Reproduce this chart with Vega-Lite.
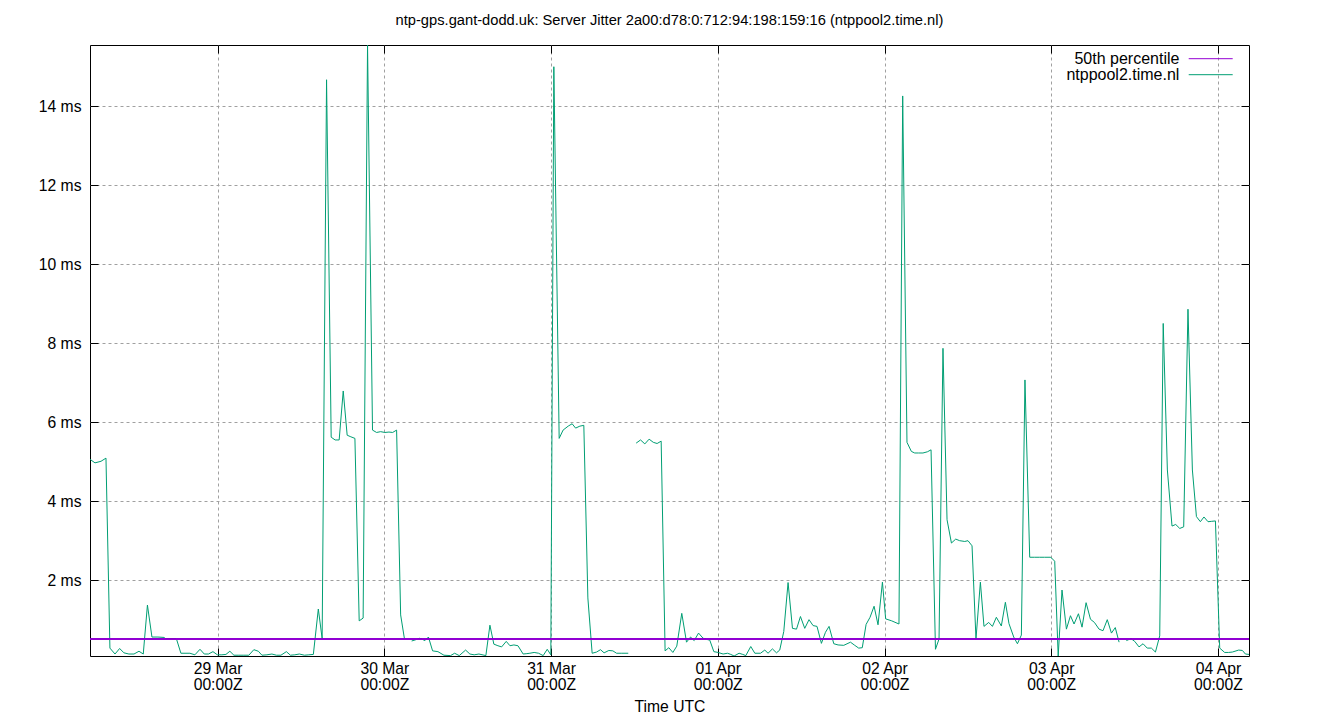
{
  "$schema": "https://vega.github.io/schema/vega-lite/v6.json",
  "width": 1159,
  "height": 611,
  "autosize": "none",
  "padding": {"left": 90, "top": 45, "right": 91, "bottom": 64},
  "background": "white",
  "title": {
    "text": "ntp-gps.gant-dodd.uk: Server Jitter 2a00:d78:0:712:94:198:159:16 (ntppool2.time.nl)",
    "anchor": "middle",
    "frame": "group",
    "baseline": "middle",
    "offset": 9,
    "font": "Liberation Sans",
    "fontSize": 14.7,
    "fontWeight": "normal",
    "color": "black"
  },
  "config": {
    "view": {"stroke": "black", "strokeWidth": 1},
    "font": "Liberation Sans",
    "axis": {
      "labelFont": "Liberation Sans",
      "labelFontSize": 15.7,
      "labelColor": "black",
      "titleFont": "Liberation Sans",
      "titleFontSize": 15.7,
      "titleFontWeight": "normal",
      "titleColor": "black",
      "domain": false,
      "tickColor": "black",
      "tickSize": -8,
      "gridColor": "#a0a0a0",
      "gridDash": [3, 3],
      "gridWidth": 1,
      "labelOverlap": false,
      "labelFlush": false
    },
    "legend": {
      "labelFont": "Liberation Sans",
      "labelFontSize": 16,
      "labelColor": "black"
    }
  },
  "data": {
    "values": [
      {"t": "2025-03-28T05:38Z", "v": 5.06, "s": 1},
      {"t": "2025-03-28T06:21Z", "v": 4.97, "s": 1},
      {"t": "2025-03-28T07:13Z", "v": 5.01, "s": 1},
      {"t": "2025-03-28T07:56Z", "v": 5.09, "s": 1},
      {"t": "2025-03-28T08:30Z", "v": 0.28, "s": 1},
      {"t": "2025-03-28T09:14Z", "v": 0.13, "s": 1},
      {"t": "2025-03-28T09:54Z", "v": 0.27, "s": 1},
      {"t": "2025-03-28T10:31Z", "v": 0.16, "s": 1},
      {"t": "2025-03-28T11:14Z", "v": 0.13, "s": 1},
      {"t": "2025-03-28T11:58Z", "v": 0.13, "s": 1},
      {"t": "2025-03-28T12:41Z", "v": 0.2, "s": 1},
      {"t": "2025-03-28T13:18Z", "v": 0.13, "s": 1},
      {"t": "2025-03-28T13:54Z", "v": 1.37, "s": 1},
      {"t": "2025-03-28T14:33Z", "v": 0.56, "s": 1},
      {"t": "2025-03-28T15:25Z", "v": 0.56, "s": 1},
      {"t": "2025-03-28T16:17Z", "v": 0.55, "s": 1},
      {"t": "2025-03-28T16:34Z", "v": 0.51, "s": 1},
      {"t": "2025-03-28T17:17Z", "v": 0.51, "s": 1},
      {"t": "2025-03-28T18:05Z", "v": 0.51, "s": 1},
      {"t": "2025-03-28T18:43Z", "v": 0.15, "s": 1},
      {"t": "2025-03-28T19:27Z", "v": 0.15, "s": 1},
      {"t": "2025-03-28T20:01Z", "v": 0.15, "s": 1},
      {"t": "2025-03-28T20:44Z", "v": 0.11, "s": 1},
      {"t": "2025-03-28T21:28Z", "v": 0.25, "s": 1},
      {"t": "2025-03-28T22:05Z", "v": 0.13, "s": 1},
      {"t": "2025-03-28T22:41Z", "v": 0.13, "s": 1},
      {"t": "2025-03-28T23:20Z", "v": 0.19, "s": 1},
      {"t": "2025-03-28T23:58Z", "v": 0.11, "s": 1},
      {"t": "2025-03-29T00:37Z", "v": 0.11, "s": 1},
      {"t": "2025-03-29T01:12Z", "v": 0.12, "s": 1},
      {"t": "2025-03-29T01:46Z", "v": 0.2, "s": 1},
      {"t": "2025-03-29T02:21Z", "v": 0.1, "s": 1},
      {"t": "2025-03-29T03:04Z", "v": 0.1, "s": 1},
      {"t": "2025-03-29T03:47Z", "v": 0.1, "s": 1},
      {"t": "2025-03-29T04:30Z", "v": 0.1, "s": 1},
      {"t": "2025-03-29T05:13Z", "v": 0.24, "s": 1},
      {"t": "2025-03-29T05:52Z", "v": 0.2, "s": 1},
      {"t": "2025-03-29T06:23Z", "v": 0.1, "s": 1},
      {"t": "2025-03-29T07:06Z", "v": 0.11, "s": 1},
      {"t": "2025-03-29T07:49Z", "v": 0.13, "s": 1},
      {"t": "2025-03-29T08:28Z", "v": 0.1, "s": 1},
      {"t": "2025-03-29T09:07Z", "v": 0.1, "s": 1},
      {"t": "2025-03-29T09:54Z", "v": 0.19, "s": 1},
      {"t": "2025-03-29T10:29Z", "v": 0.1, "s": 1},
      {"t": "2025-03-29T11:07Z", "v": 0.11, "s": 1},
      {"t": "2025-03-29T11:46Z", "v": 0.13, "s": 1},
      {"t": "2025-03-29T12:30Z", "v": 0.1, "s": 1},
      {"t": "2025-03-29T13:08Z", "v": 0.11, "s": 1},
      {"t": "2025-03-29T13:47Z", "v": 0.12, "s": 1},
      {"t": "2025-03-29T14:30Z", "v": 1.27, "s": 1},
      {"t": "2025-03-29T15:03Z", "v": 0.52, "s": 1},
      {"t": "2025-03-29T15:41Z", "v": 14.67, "s": 1},
      {"t": "2025-03-29T16:21Z", "v": 5.62, "s": 1},
      {"t": "2025-03-29T16:55Z", "v": 5.55, "s": 1},
      {"t": "2025-03-29T17:30Z", "v": 5.55, "s": 1},
      {"t": "2025-03-29T18:05Z", "v": 6.79, "s": 1},
      {"t": "2025-03-29T18:39Z", "v": 5.67, "s": 1},
      {"t": "2025-03-29T19:11Z", "v": 5.63, "s": 1},
      {"t": "2025-03-29T19:46Z", "v": 5.59, "s": 1},
      {"t": "2025-03-29T20:23Z", "v": 0.97, "s": 1},
      {"t": "2025-03-29T20:57Z", "v": 1.04, "s": 1},
      {"t": "2025-03-29T21:35Z", "v": 15.55, "s": 1},
      {"t": "2025-03-29T22:18Z", "v": 5.8, "s": 1},
      {"t": "2025-03-29T22:53Z", "v": 5.74, "s": 1},
      {"t": "2025-03-29T23:28Z", "v": 5.76, "s": 1},
      {"t": "2025-03-30T00:05Z", "v": 5.74, "s": 1},
      {"t": "2025-03-30T00:40Z", "v": 5.75, "s": 1},
      {"t": "2025-03-30T01:12Z", "v": 5.74, "s": 1},
      {"t": "2025-03-30T01:46Z", "v": 5.8, "s": 1},
      {"t": "2025-03-30T02:21Z", "v": 1.12, "s": 1},
      {"t": "2025-03-30T02:54Z", "v": 0.51, "s": 1},
      {"t": "2025-03-30T03:56Z", "v": 0.46, "s": 2},
      {"t": "2025-03-30T04:30Z", "v": 0.49, "s": 2},
      {"t": "2025-03-30T05:07Z", "v": 0.53, "s": 2},
      {"t": "2025-03-30T05:51Z", "v": 0.47, "s": 2},
      {"t": "2025-03-30T06:21Z", "v": 0.56, "s": 2},
      {"t": "2025-03-30T06:57Z", "v": 0.21, "s": 2},
      {"t": "2025-03-30T07:43Z", "v": 0.19, "s": 2},
      {"t": "2025-03-30T08:35Z", "v": 0.1, "s": 2},
      {"t": "2025-03-30T09:32Z", "v": 0.09, "s": 2},
      {"t": "2025-03-30T10:07Z", "v": 0.15, "s": 2},
      {"t": "2025-03-30T10:47Z", "v": 0.09, "s": 2},
      {"t": "2025-03-30T11:42Z", "v": 0.23, "s": 2},
      {"t": "2025-03-30T12:19Z", "v": 0.13, "s": 2},
      {"t": "2025-03-30T12:56Z", "v": 0.11, "s": 2},
      {"t": "2025-03-30T13:37Z", "v": 0.13, "s": 2},
      {"t": "2025-03-30T14:37Z", "v": 0.09, "s": 2},
      {"t": "2025-03-30T15:12Z", "v": 0.86, "s": 2},
      {"t": "2025-03-30T15:46Z", "v": 0.38, "s": 2},
      {"t": "2025-03-30T16:21Z", "v": 0.34, "s": 2},
      {"t": "2025-03-30T16:53Z", "v": 0.31, "s": 2},
      {"t": "2025-03-30T17:33Z", "v": 0.45, "s": 2},
      {"t": "2025-03-30T18:05Z", "v": 0.34, "s": 2},
      {"t": "2025-03-30T18:39Z", "v": 0.36, "s": 2},
      {"t": "2025-03-30T19:14Z", "v": 0.34, "s": 2},
      {"t": "2025-03-30T19:59Z", "v": 0.13, "s": 2},
      {"t": "2025-03-30T20:31Z", "v": 0.14, "s": 2},
      {"t": "2025-03-30T20:57Z", "v": 0.15, "s": 2},
      {"t": "2025-03-30T21:34Z", "v": 0.17, "s": 2},
      {"t": "2025-03-30T22:12Z", "v": 0.15, "s": 2},
      {"t": "2025-03-30T22:52Z", "v": 0.09, "s": 2},
      {"t": "2025-03-30T23:27Z", "v": 0.25, "s": 2},
      {"t": "2025-03-30T23:58Z", "v": 0.11, "s": 2},
      {"t": "2025-03-31T00:24Z", "v": 15.0, "s": 2},
      {"t": "2025-03-31T01:10Z", "v": 5.59, "s": 2},
      {"t": "2025-03-31T01:44Z", "v": 5.8, "s": 2},
      {"t": "2025-03-31T02:28Z", "v": 5.9, "s": 2},
      {"t": "2025-03-31T03:02Z", "v": 5.96, "s": 2},
      {"t": "2025-03-31T03:32Z", "v": 5.85, "s": 2},
      {"t": "2025-03-31T04:09Z", "v": 5.9, "s": 2},
      {"t": "2025-03-31T04:43Z", "v": 5.92, "s": 2},
      {"t": "2025-03-31T05:18Z", "v": 1.55, "s": 2},
      {"t": "2025-03-31T05:55Z", "v": 0.15, "s": 2},
      {"t": "2025-03-31T06:33Z", "v": 0.18, "s": 2},
      {"t": "2025-03-31T07:07Z", "v": 0.24, "s": 2},
      {"t": "2025-03-31T07:38Z", "v": 0.16, "s": 2},
      {"t": "2025-03-31T08:19Z", "v": 0.22, "s": 2},
      {"t": "2025-03-31T08:54Z", "v": 0.21, "s": 2},
      {"t": "2025-03-31T09:26Z", "v": 0.15, "s": 2},
      {"t": "2025-03-31T10:11Z", "v": 0.15, "s": 2},
      {"t": "2025-03-31T11:07Z", "v": 0.15, "s": 2},
      {"t": "2025-03-31T12:15Z", "v": 5.47, "s": 3},
      {"t": "2025-03-31T12:53Z", "v": 5.55, "s": 3},
      {"t": "2025-03-31T13:30Z", "v": 5.45, "s": 3},
      {"t": "2025-03-31T14:07Z", "v": 5.57, "s": 3},
      {"t": "2025-03-31T14:43Z", "v": 5.49, "s": 3},
      {"t": "2025-03-31T15:16Z", "v": 5.46, "s": 3},
      {"t": "2025-03-31T15:51Z", "v": 5.52, "s": 3},
      {"t": "2025-03-31T16:25Z", "v": 0.21, "s": 3},
      {"t": "2025-03-31T16:57Z", "v": 0.29, "s": 3},
      {"t": "2025-03-31T17:32Z", "v": 0.17, "s": 3},
      {"t": "2025-03-31T18:06Z", "v": 0.33, "s": 3},
      {"t": "2025-03-31T18:49Z", "v": 1.16, "s": 3},
      {"t": "2025-03-31T19:30Z", "v": 0.43, "s": 3},
      {"t": "2025-03-31T20:05Z", "v": 0.56, "s": 3},
      {"t": "2025-03-31T20:36Z", "v": 0.47, "s": 3},
      {"t": "2025-03-31T21:14Z", "v": 0.66, "s": 3},
      {"t": "2025-03-31T21:53Z", "v": 0.53, "s": 3},
      {"t": "2025-03-31T22:25Z", "v": 0.5, "s": 3},
      {"t": "2025-03-31T22:51Z", "v": 0.48, "s": 3},
      {"t": "2025-03-31T23:26Z", "v": 0.19, "s": 3},
      {"t": "2025-04-01T00:03Z", "v": 0.17, "s": 3},
      {"t": "2025-04-01T00:46Z", "v": 0.13, "s": 3},
      {"t": "2025-04-01T01:24Z", "v": 0.15, "s": 3},
      {"t": "2025-04-01T01:52Z", "v": 0.12, "s": 3},
      {"t": "2025-04-01T02:21Z", "v": 0.08, "s": 3},
      {"t": "2025-04-01T03:04Z", "v": 0.15, "s": 3},
      {"t": "2025-04-01T03:36Z", "v": 0.12, "s": 3},
      {"t": "2025-04-01T04:02Z", "v": 0.09, "s": 3},
      {"t": "2025-04-01T04:45Z", "v": 0.32, "s": 3},
      {"t": "2025-04-01T05:20Z", "v": 0.15, "s": 3},
      {"t": "2025-04-01T06:09Z", "v": 0.15, "s": 3},
      {"t": "2025-04-01T06:46Z", "v": 0.23, "s": 3},
      {"t": "2025-04-01T07:14Z", "v": 0.15, "s": 3},
      {"t": "2025-04-01T07:52Z", "v": 0.26, "s": 3},
      {"t": "2025-04-01T08:27Z", "v": 0.16, "s": 3},
      {"t": "2025-04-01T08:55Z", "v": 0.23, "s": 3},
      {"t": "2025-04-01T09:30Z", "v": 0.7, "s": 3},
      {"t": "2025-04-01T10:07Z", "v": 1.94, "s": 3},
      {"t": "2025-04-01T10:45Z", "v": 0.78, "s": 3},
      {"t": "2025-04-01T11:20Z", "v": 0.76, "s": 3},
      {"t": "2025-04-01T11:54Z", "v": 1.08, "s": 3},
      {"t": "2025-04-01T12:31Z", "v": 0.78, "s": 3},
      {"t": "2025-04-01T13:08Z", "v": 1.0, "s": 3},
      {"t": "2025-04-01T13:43Z", "v": 0.85, "s": 3},
      {"t": "2025-04-01T14:17Z", "v": 0.83, "s": 3},
      {"t": "2025-04-01T14:55Z", "v": 0.4, "s": 3},
      {"t": "2025-04-01T15:30Z", "v": 0.68, "s": 3},
      {"t": "2025-04-01T16:01Z", "v": 0.83, "s": 3},
      {"t": "2025-04-01T16:42Z", "v": 0.39, "s": 3},
      {"t": "2025-04-01T17:19Z", "v": 0.36, "s": 3},
      {"t": "2025-04-01T18:08Z", "v": 0.35, "s": 3},
      {"t": "2025-04-01T19:06Z", "v": 0.43, "s": 3},
      {"t": "2025-04-01T19:43Z", "v": 0.35, "s": 3},
      {"t": "2025-04-01T20:17Z", "v": 0.28, "s": 3},
      {"t": "2025-04-01T20:48Z", "v": 0.29, "s": 3},
      {"t": "2025-04-01T21:21Z", "v": 0.88, "s": 3},
      {"t": "2025-04-01T21:55Z", "v": 1.06, "s": 3},
      {"t": "2025-04-01T22:30Z", "v": 1.34, "s": 3},
      {"t": "2025-04-01T23:04Z", "v": 0.87, "s": 3},
      {"t": "2025-04-01T23:42Z", "v": 1.95, "s": 3},
      {"t": "2025-04-02T00:10Z", "v": 1.02, "s": 3},
      {"t": "2025-04-02T01:02Z", "v": 0.97, "s": 3},
      {"t": "2025-04-02T02:05Z", "v": 0.89, "s": 3},
      {"t": "2025-04-02T02:37Z", "v": 14.26, "s": 3},
      {"t": "2025-04-02T03:14Z", "v": 5.49, "s": 3},
      {"t": "2025-04-02T03:52Z", "v": 5.26, "s": 3},
      {"t": "2025-04-02T04:21Z", "v": 5.22, "s": 3},
      {"t": "2025-04-02T04:55Z", "v": 5.22, "s": 3},
      {"t": "2025-04-02T05:32Z", "v": 5.22, "s": 3},
      {"t": "2025-04-02T06:10Z", "v": 5.25, "s": 3},
      {"t": "2025-04-02T06:42Z", "v": 5.3, "s": 3},
      {"t": "2025-04-02T07:20Z", "v": 0.25, "s": 3},
      {"t": "2025-04-02T07:51Z", "v": 0.51, "s": 3},
      {"t": "2025-04-02T08:25Z", "v": 7.87, "s": 3},
      {"t": "2025-04-02T09:00Z", "v": 3.53, "s": 3},
      {"t": "2025-04-02T09:38Z", "v": 2.94, "s": 3},
      {"t": "2025-04-02T10:15Z", "v": 3.04, "s": 3},
      {"t": "2025-04-02T10:49Z", "v": 3.0, "s": 3},
      {"t": "2025-04-02T11:33Z", "v": 2.98, "s": 3},
      {"t": "2025-04-02T12:01Z", "v": 3.0, "s": 3},
      {"t": "2025-04-02T12:36Z", "v": 2.87, "s": 3},
      {"t": "2025-04-02T13:10Z", "v": 0.51, "s": 3},
      {"t": "2025-04-02T13:48Z", "v": 1.95, "s": 3},
      {"t": "2025-04-02T14:19Z", "v": 0.83, "s": 3},
      {"t": "2025-04-02T15:00Z", "v": 0.93, "s": 3},
      {"t": "2025-04-02T15:32Z", "v": 0.83, "s": 3},
      {"t": "2025-04-02T16:06Z", "v": 1.06, "s": 3},
      {"t": "2025-04-02T16:49Z", "v": 0.84, "s": 3},
      {"t": "2025-04-02T17:24Z", "v": 1.44, "s": 3},
      {"t": "2025-04-02T17:55Z", "v": 0.9, "s": 3},
      {"t": "2025-04-02T18:36Z", "v": 0.56, "s": 3},
      {"t": "2025-04-02T19:08Z", "v": 0.39, "s": 3},
      {"t": "2025-04-02T19:42Z", "v": 0.61, "s": 3},
      {"t": "2025-04-02T20:13Z", "v": 7.07, "s": 3},
      {"t": "2025-04-02T20:54Z", "v": 2.58, "s": 3},
      {"t": "2025-04-02T21:37Z", "v": 2.58, "s": 3},
      {"t": "2025-04-02T22:20Z", "v": 2.58, "s": 3},
      {"t": "2025-04-02T23:03Z", "v": 2.58, "s": 3},
      {"t": "2025-04-02T23:56Z", "v": 2.58, "s": 3},
      {"t": "2025-04-03T00:30Z", "v": 2.48, "s": 3},
      {"t": "2025-04-03T01:00Z", "v": 0.08, "s": 3},
      {"t": "2025-04-03T01:33Z", "v": 1.75, "s": 3},
      {"t": "2025-04-03T02:11Z", "v": 0.76, "s": 3},
      {"t": "2025-04-03T02:46Z", "v": 1.1, "s": 3},
      {"t": "2025-04-03T03:17Z", "v": 0.89, "s": 3},
      {"t": "2025-04-03T03:55Z", "v": 1.15, "s": 3},
      {"t": "2025-04-03T04:26Z", "v": 0.81, "s": 3},
      {"t": "2025-04-03T05:01Z", "v": 1.43, "s": 3},
      {"t": "2025-04-03T05:39Z", "v": 1.01, "s": 3},
      {"t": "2025-04-03T06:13Z", "v": 0.93, "s": 3},
      {"t": "2025-04-03T06:53Z", "v": 0.76, "s": 3},
      {"t": "2025-04-03T07:27Z", "v": 0.72, "s": 3},
      {"t": "2025-04-03T08:04Z", "v": 1.0, "s": 3},
      {"t": "2025-04-03T08:40Z", "v": 0.66, "s": 3},
      {"t": "2025-04-03T09:13Z", "v": 0.8, "s": 3},
      {"t": "2025-04-03T09:46Z", "v": 0.43, "s": 3},
      {"t": "2025-04-03T10:49Z", "v": 0.47, "s": 4},
      {"t": "2025-04-03T11:29Z", "v": 0.52, "s": 4},
      {"t": "2025-04-03T12:01Z", "v": 0.45, "s": 4},
      {"t": "2025-04-03T12:38Z", "v": 0.31, "s": 4},
      {"t": "2025-04-03T13:13Z", "v": 0.39, "s": 4},
      {"t": "2025-04-03T13:49Z", "v": 0.28, "s": 4},
      {"t": "2025-04-03T14:25Z", "v": 0.28, "s": 4},
      {"t": "2025-04-03T15:00Z", "v": 0.18, "s": 4},
      {"t": "2025-04-03T15:37Z", "v": 0.59, "s": 4},
      {"t": "2025-04-03T16:07Z", "v": 8.5, "s": 4},
      {"t": "2025-04-03T16:43Z", "v": 4.79, "s": 4},
      {"t": "2025-04-03T17:23Z", "v": 3.37, "s": 4},
      {"t": "2025-04-03T17:55Z", "v": 3.41, "s": 4},
      {"t": "2025-04-03T18:30Z", "v": 3.31, "s": 4},
      {"t": "2025-04-03T19:04Z", "v": 3.35, "s": 4},
      {"t": "2025-04-03T19:41Z", "v": 8.86, "s": 4},
      {"t": "2025-04-03T20:19Z", "v": 4.79, "s": 4},
      {"t": "2025-04-03T20:54Z", "v": 3.61, "s": 4},
      {"t": "2025-04-03T21:28Z", "v": 3.48, "s": 4},
      {"t": "2025-04-03T21:59Z", "v": 3.6, "s": 4},
      {"t": "2025-04-03T22:34Z", "v": 3.48, "s": 4},
      {"t": "2025-04-03T23:06Z", "v": 3.49, "s": 4},
      {"t": "2025-04-03T23:38Z", "v": 3.5, "s": 4},
      {"t": "2025-04-04T00:15Z", "v": 0.28, "s": 4},
      {"t": "2025-04-04T00:58Z", "v": 0.17, "s": 4},
      {"t": "2025-04-04T01:32Z", "v": 0.17, "s": 4},
      {"t": "2025-04-04T02:04Z", "v": 0.18, "s": 4},
      {"t": "2025-04-04T02:59Z", "v": 0.23, "s": 4},
      {"t": "2025-04-04T03:31Z", "v": 0.22, "s": 4},
      {"t": "2025-04-04T03:57Z", "v": 0.13, "s": 4},
      {"t": "2025-04-04T04:28Z", "v": 0.12, "s": 4}
    ]
  },
  "layer": [
    {
      "mark": {"type": "line", "strokeWidth": 1, "clip": true},
      "encoding": {
        "x": {
          "field": "t",
          "type": "temporal",
          "scale": {
            "type": "utc",
            "domain": [
              {"year": 2025, "month": 3, "date": 28, "hours": 5, "minutes": 38, "utc": true},
              {"year": 2025, "month": 4, "date": 4, "hours": 4, "minutes": 28, "utc": true}
            ]
          },
          "axis": {
            "orient": "bottom",
            "title": "Time UTC",
            "titlePadding": 8,
            "grid": true,
            "labelPadding": 13,
            "labelLineHeight": 16,
            "values": [
              {"year": 2025, "month": 3, "date": 29, "utc": true},
              {"year": 2025, "month": 3, "date": 30, "utc": true},
              {"year": 2025, "month": 3, "date": 31, "utc": true},
              {"year": 2025, "month": 4, "date": 1, "utc": true},
              {"year": 2025, "month": 4, "date": 2, "utc": true},
              {"year": 2025, "month": 4, "date": 3, "utc": true},
              {"year": 2025, "month": 4, "date": 4, "utc": true}
            ],
            "labelExpr": "[utcFormat(datum.value, '%d %b'), '00:00Z']"
          }
        },
        "y": {
          "field": "v",
          "type": "quantitative",
          "scale": {"domain": [0.08, 15.55], "zero": false, "nice": false},
          "axis": {
            "orient": "left",
            "title": null,
            "grid": true,
            "labelPadding": 17,
            "values": [2, 4, 6, 8, 10, 12, 14],
            "labelExpr": "datum.value + ' ms'"
          }
        },
        "detail": {"field": "s", "type": "nominal"},
        "color": {
          "datum": "ntppool2.time.nl",
          "type": "nominal",
          "scale": {
            "domain": ["50th percentile", "ntppool2.time.nl"],
            "range": ["#9400d3", "#009e73"]
          },
          "legend": {
            "title": null,
            "orient": "none",
            "legendX": 1112.7,
            "legendY": 5.7,
            "padding": 0,
            "symbolType": "M-3,0H3",
            "symbolSize": 215,
            "symbolStrokeWidth": 1,
            "symbolOpacity": 1,
            "symbolFillColor": "transparent",
            "rowPadding": 0,
            "labelAlign": "right",
            "labelOffset": -39.3
          }
        }
      }
    },
    {
      "mark": {"type": "rule", "strokeWidth": 1},
      "encoding": {
        "y": {"datum": 0.5, "type": "quantitative", "axis": null},
        "color": {"datum": "50th percentile", "type": "nominal"}
      }
    },
    {
      "mark": {"type": "line", "strokeWidth": 0},
      "encoding": {
        "x": {
          "field": "t",
          "type": "temporal",
          "axis": {
            "orient": "top",
            "title": null,
            "labels": false,
            "grid": false,
            "values": [
              {"year": 2025, "month": 3, "date": 29, "utc": true},
              {"year": 2025, "month": 3, "date": 30, "utc": true},
              {"year": 2025, "month": 3, "date": 31, "utc": true},
              {"year": 2025, "month": 4, "date": 1, "utc": true},
              {"year": 2025, "month": 4, "date": 2, "utc": true},
              {"year": 2025, "month": 4, "date": 3, "utc": true},
              {"year": 2025, "month": 4, "date": 4, "utc": true}
            ]
          }
        },
        "y": {
          "field": "v",
          "type": "quantitative",
          "axis": {
            "orient": "right",
            "title": null,
            "labels": false,
            "grid": false,
            "values": [2, 4, 6, 8, 10, 12, 14]
          }
        },
        "detail": {"field": "s", "type": "nominal"}
      }
    }
  ],
  "resolve": {"axis": {"x": "independent", "y": "independent"}}
}
